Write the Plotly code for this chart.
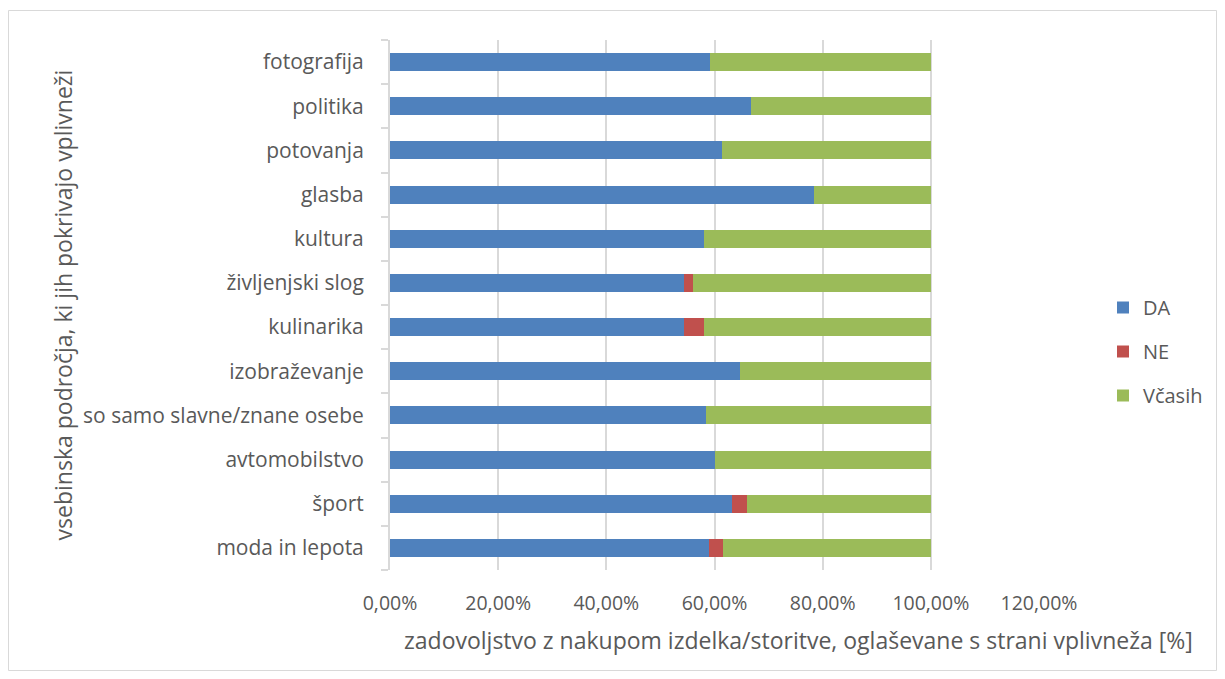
import plotly.graph_objects as go

categories = ["moda in lepota", "šport", "avtomobilstvo", "so samo slavne/znane osebe",
              "izobraževanje", "kulinarika", "življenjski slog", "kultura", "glasba",
              "potovanja", "politika", "fotografija"]
da = [0.589, 0.632, 0.600, 0.585, 0.648, 0.544, 0.544, 0.581, 0.784, 0.613, 0.668, 0.592]
ne = [0.026, 0.029, 0.0, 0.0, 0.0, 0.036, 0.016, 0.0, 0.0, 0.0, 0.0, 0.0]
vcasih = [0.385, 0.339, 0.400, 0.415, 0.352, 0.420, 0.440, 0.419, 0.216, 0.387, 0.332, 0.408]

series = [("DA", da, "#4F81BD"), ("NE", ne, "#C0504D"), ("Včasih", vcasih, "#9BBB59")]

x_title = "zadovoljstvo z nakupom izdelka/storitve, oglaševane s strani vplivneža [%]"
y_title = "vsebinska področja, ki jih pokrivajo vplivneži"

font_family = "'Open Sans', 'Noto Sans', sans-serif"
txt = "#595959"

fig = go.Figure()
for i, (name, vals, col) in enumerate(series):
    fig.add_trace(go.Bar(
        y=categories, x=vals, name=name, orientation="h",
        marker=dict(color=col, line=dict(width=0)),
        legendgroup=name,
    ))

W, H = 1225, 679
L, R, T, B = 390, 1225 - 1039, 40, 679 - 570
pw, ph = W - L - R, H - T - B

def px_x(x):
    return (x - L) / pw

def px_y(y):
    return (H - B - y) / ph

fig.update_layout(
    width=W, height=H,
    barmode="stack", bargap=0.59,
    separators=",.",
    plot_bgcolor="white", paper_bgcolor="white",
    margin=dict(l=L, r=R, t=T, b=B),
    font=dict(family=font_family, size=18, color=txt),
    legend=dict(
        x=px_x(1103), y=px_y(288), xanchor="left", yanchor="top",
        traceorder="grouped", tracegroupgap=15,
        font=dict(size=20, color=txt),
        itemwidth=30,
    ),
    xaxis=dict(
        range=[0, 1.2], dtick=0.2, tickformat=".2%",
        showgrid=True, gridcolor="#D9D9D9", gridwidth=2,
        zeroline=False, showline=False,
        tickfont=dict(size=19.5, color=txt),
        ticks="", ticklabelstandoff=19,
    ),
    yaxis=dict(
        showgrid=False, showline=True, linecolor="#D9D9D9", linewidth=2,
        ticks="outside", ticklen=7, tickcolor="#D9D9D9", tickwidth=2,
        tickson="boundaries",
        tickfont=dict(size=21, color=txt),
        ticklabelstandoff=20,
        title=dict(text=y_title, font=dict(size=23, color=txt), standoff=4),
    ),
    annotations=[dict(
        text=x_title, xref="paper", yref="paper",
        x=px_x(798), y=px_y(640), xanchor="center", yanchor="middle",
        showarrow=False, font=dict(size=23, color=txt),
    )],
    shapes=[dict(
        type="rect", xref="paper", yref="paper",
        x0=px_x(8.5), x1=px_x(1216.5), y0=px_y(670.5), y1=px_y(10.5),
        line=dict(color="#D9D9D9", width=1), fillcolor="rgba(0,0,0,0)", layer="below",
    )],
)

fig.write_html("out.html")
